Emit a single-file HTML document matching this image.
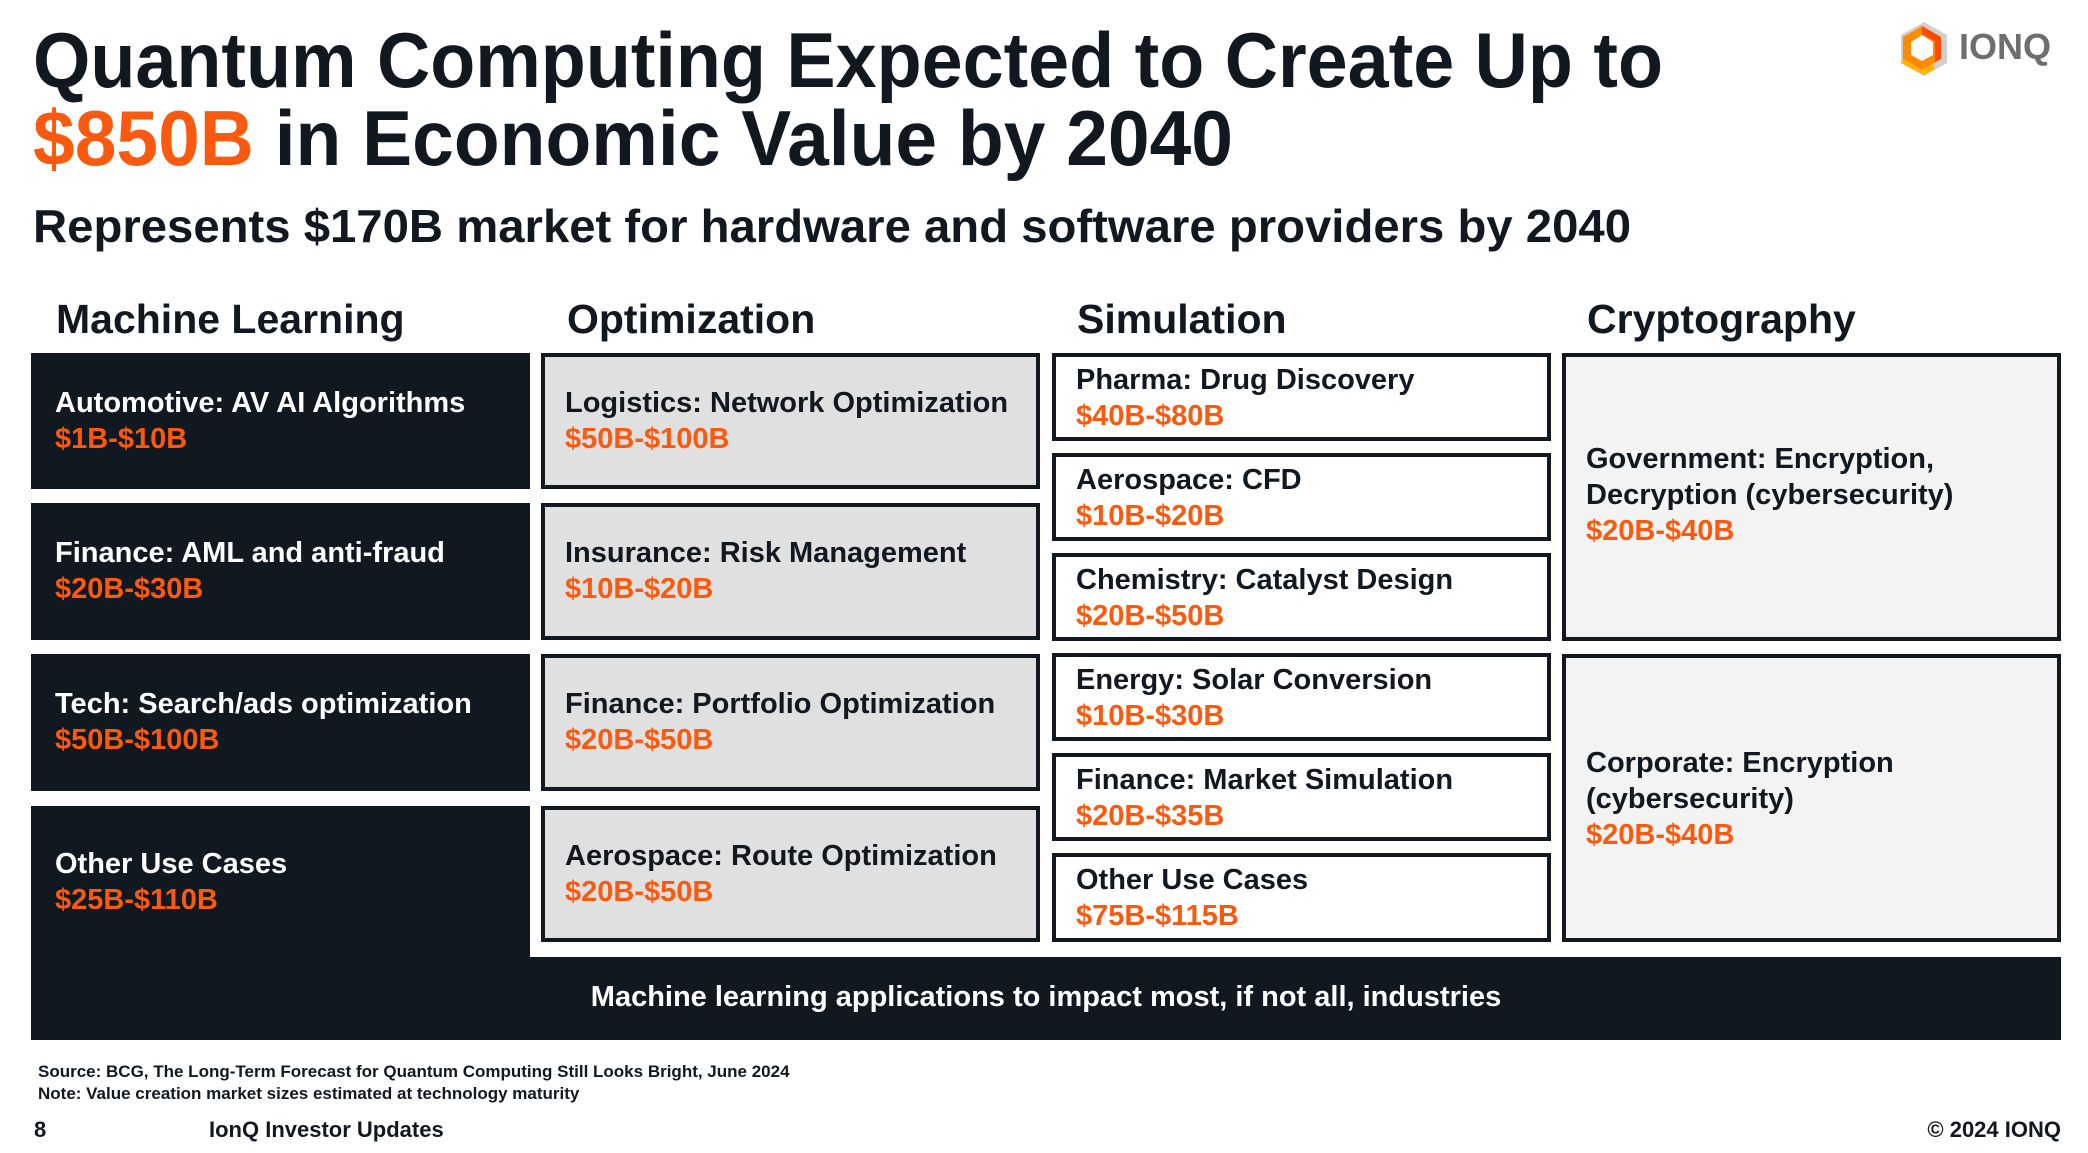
<!DOCTYPE html>
<html><head><meta charset="utf-8">
<style>
*{margin:0;padding:0;box-sizing:border-box}
body{width:2088px;height:1153px;background:#fff;position:relative;overflow:hidden;font-family:"Liberation Sans",sans-serif;color:#121820;font-weight:bold}
.a{position:absolute;white-space:nowrap}
.fit{transform-origin:0 50%;display:inline-block}
.o{color:#fa5a0f}
.box{position:absolute;border:4px solid #121820}
.dk{background:#121820;color:#fff;border:none}
.lg{background:#e0e0e0}
.wh{background:#fff}
.gy{background:#f3f3f3}
.t{position:absolute;left:20px;font-size:29px;line-height:36px;white-space:nowrap}
.t span{display:block}
.hd{font-size:41px}
</style></head><body>
<div class="a" style="left:33px;top:18px;font-size:78px;line-height:84px"><span class="fit" data-w="1630">Quantum Computing Expected to Create Up to</span></div>
<div class="a" style="left:33px;top:96px;font-size:78px;line-height:84px"><span class="fit" data-w="1200"><span class="o">$850B</span> in Economic Value by 2040</span></div>
<div class="a" style="left:33px;top:200px;font-size:46px;line-height:52px"><span class="fit" data-w="1598">Represents $170B market for hardware and software providers by 2040</span></div>

<div class="a" style="left:1897px;top:20px;width:170px;height:58px">
<svg width="54" height="58" viewBox="0 0 54 58" style="position:absolute;left:0;top:0">
<polygon points="27,2 50,15 50,43 27,56 4,43 4,15" fill="#cfcfcf"/>
<polygon points="25,6 44,17 44,39 25,50 6,39 6,17" fill="#ff8a00"/>
<polygon points="25,6 44,17 44,39 38,42 38,21 25,14" fill="#ff4b00"/>
<polygon points="25,15 36,22 36,35 25,41 14,35 14,22" fill="#fff"/>
<polygon points="6,39 25,50 36,44 38,49 27,55 4,43" fill="#ffb400"/>
</svg>
<div class="a" style="left:62px;top:6px;font-size:36px;color:#6e6e6e;line-height:42px">IONQ</div>
</div>

<div class="a hd" style="left:56px;top:296px">Machine Learning</div>
<div class="a hd" style="left:567px;top:296px">Optimization</div>
<div class="a hd" style="left:1077px;top:296px">Simulation</div>
<div class="a hd" style="left:1587px;top:296px">Cryptography</div>

<!-- ML -->
<div class="box dk" style="left:31px;top:353px;width:499px;height:136px"><div class="t" style="left:24px;top:32px"><span>Automotive: AV AI Algorithms</span><span class="o">$1B-$10B</span></div></div>
<div class="box dk" style="left:31px;top:503px;width:499px;height:137px"><div class="t" style="left:24px;top:32px"><span>Finance: AML and anti-fraud</span><span class="o">$20B-$30B</span></div></div>
<div class="box dk" style="left:31px;top:654px;width:499px;height:137px"><div class="t" style="left:24px;top:32px"><span>Tech: Search/ads optimization</span><span class="o">$50B-$100B</span></div></div>
<div class="box dk" style="left:31px;top:806px;width:499px;height:234px"><div class="t" style="left:24px;top:40px"><span>Other Use Cases</span><span class="o">$25B-$110B</span></div></div>
<div class="box dk" style="left:31px;top:957px;width:2030px;height:83px"><div class="a" style="left:0;width:2030px;text-align:center;top:22px;font-size:29px;line-height:36px">Machine learning applications to impact most, if not all, industries</div></div>

<!-- Opt -->
<div class="box lg" style="left:541px;top:353px;width:499px;height:136px"><div class="t" style="top:28px"><span>Logistics: Network Optimization</span><span class="o">$50B-$100B</span></div></div>
<div class="box lg" style="left:541px;top:503px;width:499px;height:137px"><div class="t" style="top:28px"><span>Insurance: Risk Management</span><span class="o">$10B-$20B</span></div></div>
<div class="box lg" style="left:541px;top:654px;width:499px;height:137px"><div class="t" style="top:28px"><span>Finance: Portfolio Optimization</span><span class="o">$20B-$50B</span></div></div>
<div class="box lg" style="left:541px;top:806px;width:499px;height:136px"><div class="t" style="top:28px"><span>Aerospace: Route Optimization</span><span class="o">$20B-$50B</span></div></div>

<!-- Sim -->
<div class="box wh" style="left:1052px;top:353px;width:499px;height:88px"><div class="t" style="top:5px"><span>Pharma: Drug Discovery</span><span class="o">$40B-$80B</span></div></div>
<div class="box wh" style="left:1052px;top:453px;width:499px;height:88px"><div class="t" style="top:5px"><span>Aerospace: CFD</span><span class="o">$10B-$20B</span></div></div>
<div class="box wh" style="left:1052px;top:553px;width:499px;height:88px"><div class="t" style="top:5px"><span>Chemistry: Catalyst Design</span><span class="o">$20B-$50B</span></div></div>
<div class="box wh" style="left:1052px;top:653px;width:499px;height:88px"><div class="t" style="top:5px"><span>Energy: Solar Conversion</span><span class="o">$10B-$30B</span></div></div>
<div class="box wh" style="left:1052px;top:753px;width:499px;height:88px"><div class="t" style="top:5px"><span>Finance: Market Simulation</span><span class="o">$20B-$35B</span></div></div>
<div class="box wh" style="left:1052px;top:853px;width:499px;height:89px"><div class="t" style="top:5px"><span>Other Use Cases</span><span class="o">$75B-$115B</span></div></div>

<!-- Crypto -->
<div class="box gy" style="left:1562px;top:353px;width:499px;height:288px"><div class="t" style="top:84px"><span>Government: Encryption,</span><span>Decryption (cybersecurity)</span><span class="o">$20B-$40B</span></div></div>
<div class="box gy" style="left:1562px;top:654px;width:499px;height:288px"><div class="t" style="top:87px"><span>Corporate: Encryption</span><span>(cybersecurity)</span><span class="o">$20B-$40B</span></div></div>

<div class="a" style="left:38px;top:1061px;font-size:17px;line-height:22px">Source: BCG, The Long-Term Forecast for Quantum Computing Still Looks Bright, June 2024<br>Note: Value creation market sizes estimated at technology maturity</div>
<div class="a" style="left:34px;top:1117px;font-size:22px;line-height:26px">8</div>
<div class="a" style="left:209px;top:1117px;font-size:22px;line-height:26px">IonQ Investor Updates</div>
<div class="a" style="right:27px;top:1117px;font-size:22px;line-height:26px">© 2024 IONQ</div>

<script>
document.querySelectorAll('.fit[data-w]').forEach(function(e){
  var w=e.getBoundingClientRect().width, t=+e.getAttribute('data-w');
  e.style.transform='scaleX('+(t/w)+')';
});
</script>
</body></html>
